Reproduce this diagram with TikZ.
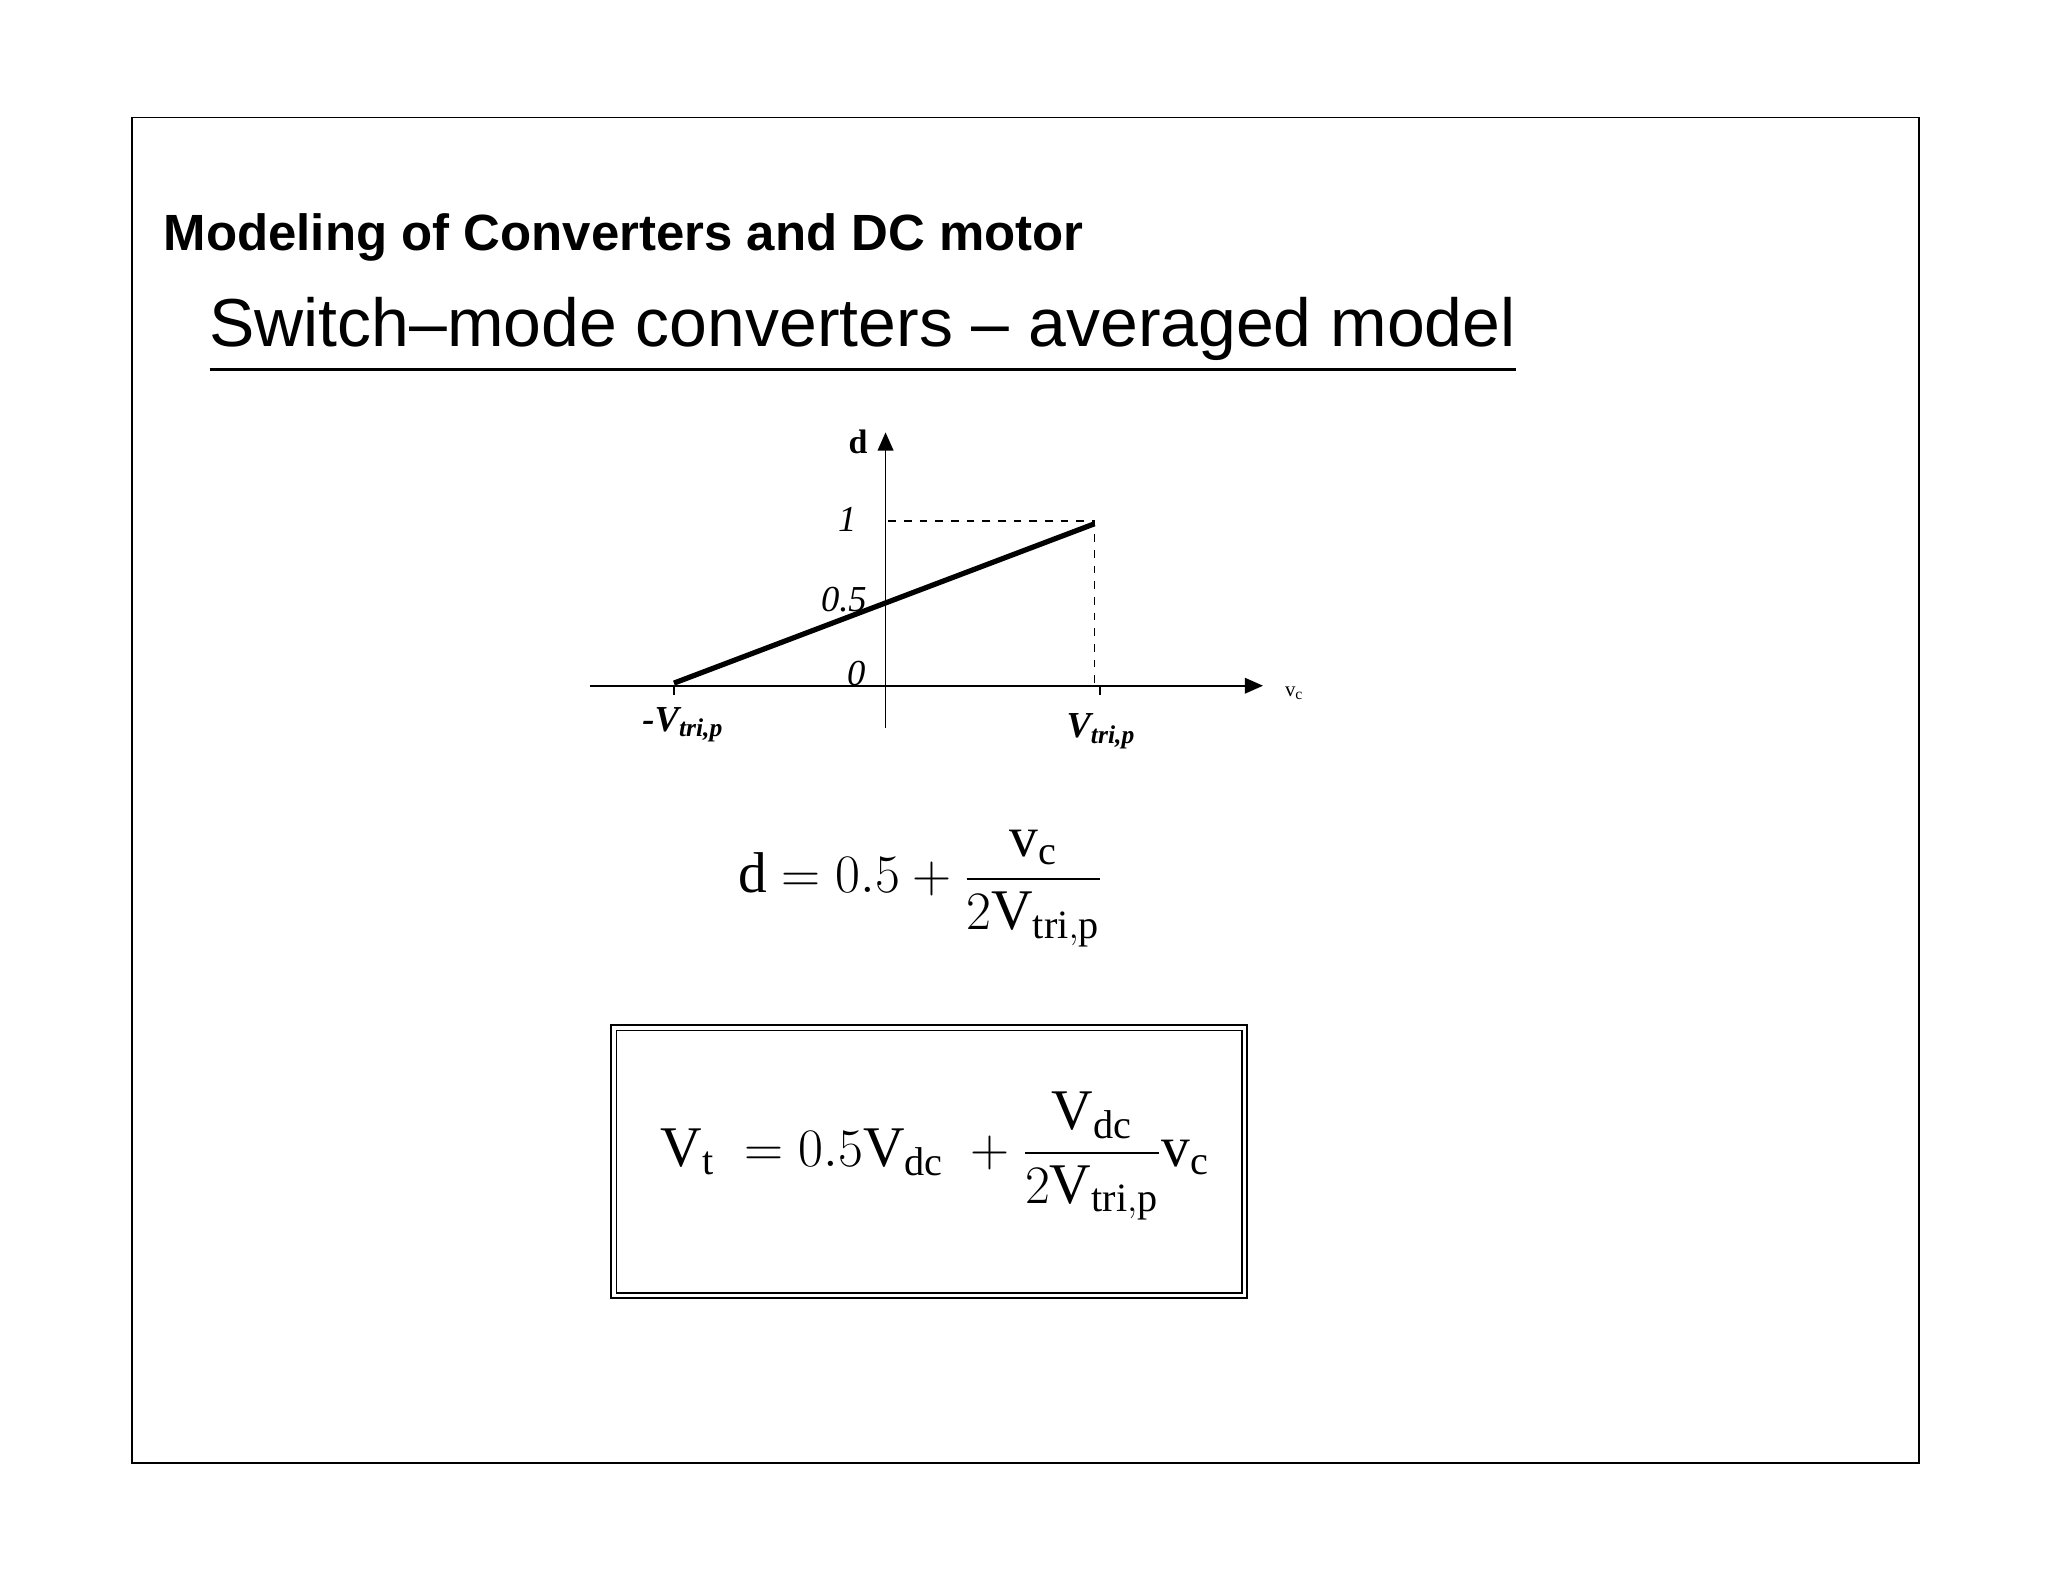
\documentclass[tikz,border=0pt]{standalone}
\usepackage{amsmath}
\usepackage{fontspec}
\setmainfont{Liberation Serif}
\newfontfamily\arialf{Liberation Sans}
\usetikzlibrary{arrows.meta}
\begin{document}
\begin{tikzpicture}[x=0.5pt,y=-0.5pt,
  lbl/.style={inner sep=0pt},
  axis/.style={line width=0.7pt,-{Triangle[length=7pt,width=6pt]}}]
\useasboundingbox (0,0) rectangle (1568,1211);
\draw[line width=0.6pt] (101,90) rectangle (1469,1120);
\node[lbl,anchor=base west] (title) at (125,192) {\arialf\bfseries\fontsize{19.5}{22}\selectfont Modeling of Converters and DC motor};
\node[lbl,anchor=base west] (sub) at (160,265) {\arialf\fontsize{26}{30}\selectfont\underline{Switch–mode converters – averaged model}};
% axes
\coordinate (xa) at (452,525); \coordinate (xb) at (967,525);
\coordinate (ya) at (678,557); \coordinate (yb) at (678,331);
\draw[axis] (xa) -- (xb);
\draw[axis] (ya) -- (yb);
\draw[line width=0.6pt] (516,525) -- (516,532) (842,525) -- (842,532);
\coordinate (p0) at (516,523); \coordinate (p1) at (838,401);
\draw[line width=2pt] (p0) -- (p1);
\draw[dashed,line width=0.6pt] (680,399) -- (838,399) -- (838,525);
\node[lbl] (d) at (657,338) {\fontsize{13}{14}\selectfont\bfseries d};
\node[lbl] (vc) at (991,531) {\fontsize{8}{9}\selectfont v\textsubscript{c}};
\node[lbl,anchor=east] (one) at (656,398) {\fontsize{14}{15}\selectfont\itshape 1};
\node[lbl,anchor=east] (half) at (664,459) {\fontsize{14}{15}\selectfont\itshape 0.5};
\node[lbl,anchor=east] (zero) at (663,516) {\fontsize{14}{15}\selectfont\itshape 0};
\node[lbl] (vn) at (523,555) {\fontsize{14}{15}\selectfont\bfseries\itshape -V\textsubscript{tri,p}};
\node[lbl] (vp) at (843,560) {\fontsize{14}{15}\selectfont\bfseries\itshape V\textsubscript{tri,p}};
% equation 1
\node[lbl] (eq1) at (705,680) {\fontsize{22}{26}\selectfont $\mathrm{d}=0.5+\dfrac{\mathrm{v_c}}{2\mathrm{V_{tri,p}}}$};
% boxed equation
\draw[line width=0.7pt] (468,785) rectangle (955,994);
\draw[line width=0.7pt] (472,789) rectangle (951,990);
\node[lbl] (eq2) at (716,885) {\fontsize{22}{26}\selectfont $\mathrm{V_t}\;=0.5\mathrm{V_{dc}}\;+\dfrac{\mathrm{V_{dc}}}{2\mathrm{V_{tri,p}}}\mathrm{v_c}$};
\end{tikzpicture}
\end{document}
